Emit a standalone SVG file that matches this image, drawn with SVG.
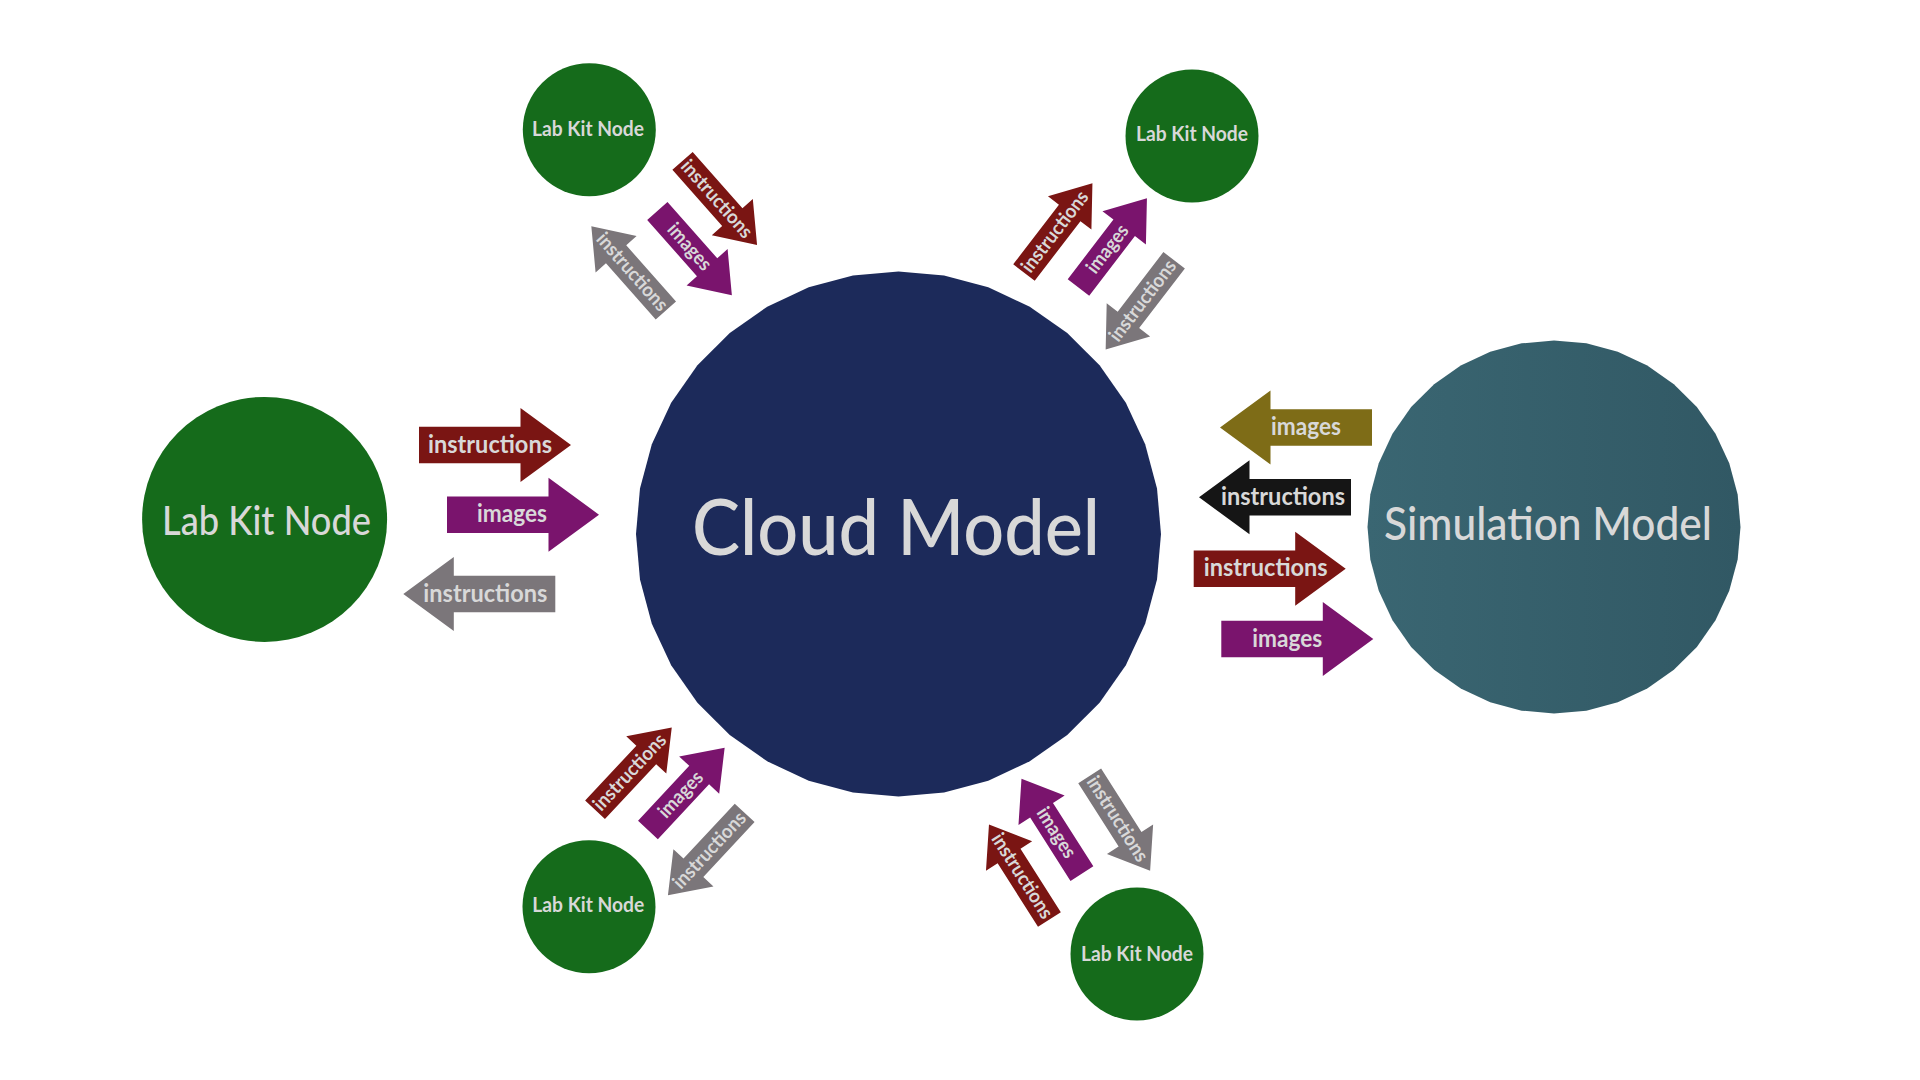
<svg xmlns="http://www.w3.org/2000/svg" xmlns:xlink="http://www.w3.org/1999/xlink" width="1920" height="1080" viewBox="0 0 1920 1080">
<style>
.lbl{font-family:Lato,"Open Sans","DejaVu Sans",sans-serif;fill:#d8d8d8;text-anchor:middle}
.t-arrow{font-size:25px;font-weight:700}
.t-diag{font-size:19.5px;font-weight:700}
.t-small{font-size:21px;font-weight:700}
.t-big{font-weight:500}
.red{fill:#7a1513}.pur{fill:#7a146d}.gry{fill:#7b767a}.olv{fill:#7e6c17}.blk{fill:#151515}
.green{fill:#156b1b}
</style>
<defs>
<polygon id="p36" points="100,0 98.48,17.36 93.97,34.2 86.6,50 76.6,64.28 64.28,76.6 50,86.6 34.2,93.97 17.36,98.48 0,100 -17.36,98.48 -34.2,93.97 -50,86.6 -64.28,76.6 -76.6,64.28 -86.6,50 -93.97,34.2 -98.48,17.36 -100,0 -98.48,-17.36 -93.97,-34.2 -86.6,-50 -76.6,-64.28 -64.28,-76.6 -50,-86.6 -34.2,-93.97 -17.36,-98.48 0,-100 17.36,-98.48 34.2,-93.97 50,-86.6 64.28,-76.6 76.6,-64.28 86.6,-50 93.97,-34.2 98.48,-17.36"/>
<path id="aR" d="M-76,-18.3H25.5V-37L76,0L25.5,37V18.3H-76Z"/>
<path id="aL" d="M76,-18.3H-25.5V-37L-76,0L-25.5,37V18.3H76Z"/>
<linearGradient id="simG" x1="0" y1="0" x2="1" y2="0">
<stop offset="0" stop-color="#3a6672"/><stop offset="1" stop-color="#315864"/>
</linearGradient>
</defs>
<rect width="1920" height="1080" fill="#ffffff"/>

<g id="cloud-model">
<use xlink:href="#p36" href="#p36" transform="translate(898.5 534) scale(2.625)" fill="#1c2a5a"/>
<text class="lbl t-big" x="896" y="555" font-size="78" textLength="408" lengthAdjust="spacingAndGlyphs">Cloud Model</text>
</g>
<g id="simulation-model">
<use xlink:href="#p36" href="#p36" transform="translate(1554 527) scale(1.865)" fill="url(#simG)"/>
<text class="lbl t-big" x="1548" y="540" font-size="46" textLength="328" lengthAdjust="spacingAndGlyphs">Simulation Model</text>
</g>
<g id="lab-kit-left">
<circle cx="264.6" cy="519.4" r="122.5" class="green"/>
<text class="lbl t-big" x="266.5" y="535.3" font-size="40" textLength="209" lengthAdjust="spacingAndGlyphs">Lab Kit Node</text>
</g>
<g id="lab-kit-top-left">
<circle cx="589.3" cy="129.7" r="66.5" class="green"/>
<text class="lbl t-small" x="588" y="135.5" textLength="112" lengthAdjust="spacingAndGlyphs">Lab Kit Node</text>
</g>
<g id="lab-kit-top-right">
<circle cx="1192" cy="136" r="66.5" class="green"/>
<text class="lbl t-small" x="1192" y="141" textLength="112" lengthAdjust="spacingAndGlyphs">Lab Kit Node</text>
</g>
<g id="lab-kit-bottom-left">
<circle cx="589" cy="906.7" r="66.5" class="green"/>
<text class="lbl t-small" x="588.3" y="912" textLength="112" lengthAdjust="spacingAndGlyphs">Lab Kit Node</text>
</g>
<g id="lab-kit-bottom-right">
<circle cx="1137" cy="954" r="66.5" class="green"/>
<text class="lbl t-small" x="1137" y="961" textLength="112" lengthAdjust="spacingAndGlyphs">Lab Kit Node</text>
</g>

<g id="connectors">
<g transform="translate(495 445)"><use xlink:href="#aR" href="#aR" class="red"/><text class="lbl t-arrow" x="-5" y="7.5" textLength="124" lengthAdjust="spacingAndGlyphs">instructions</text></g>
<g transform="translate(523 514.7)"><use xlink:href="#aR" href="#aR" class="pur"/><text class="lbl t-arrow" x="-11" y="7.5" textLength="70" lengthAdjust="spacingAndGlyphs">images</text></g>
<g transform="translate(479.3 594)"><use xlink:href="#aL" href="#aL" class="gry"/><text class="lbl t-arrow" x="6" y="7.5" textLength="124" lengthAdjust="spacingAndGlyphs">instructions</text></g>
<g transform="translate(1296 427.5)"><use xlink:href="#aL" href="#aL" class="olv"/><text class="lbl t-arrow" x="10" y="7.5" textLength="70" lengthAdjust="spacingAndGlyphs">images</text></g>
<g transform="translate(1275 497.3)"><use xlink:href="#aL" href="#aL" class="blk"/><text class="lbl t-arrow" x="8" y="7.5" textLength="124" lengthAdjust="spacingAndGlyphs">instructions</text></g>
<g transform="translate(1269.7 568.7)"><use xlink:href="#aR" href="#aR" class="red"/><text class="lbl t-arrow" x="-4" y="7.5" textLength="124" lengthAdjust="spacingAndGlyphs">instructions</text></g>
<g transform="translate(1297.3 639)"><use xlink:href="#aR" href="#aR" class="pur"/><text class="lbl t-arrow" x="-10" y="7.5" textLength="70" lengthAdjust="spacingAndGlyphs">images</text></g>
<g transform="translate(719.8 203) rotate(48.5)"><use xlink:href="#aR" href="#aR" class="red" transform="scale(0.74)"/><text class="lbl t-diag" x="-5" y="6" textLength="97" lengthAdjust="spacingAndGlyphs">instructions</text></g>
<g transform="translate(694.6 253.1) rotate(48.5)"><use xlink:href="#aR" href="#aR" class="pur" transform="scale(0.74)"/><text class="lbl t-diag" x="-8" y="6" textLength="56" lengthAdjust="spacingAndGlyphs">images</text></g>
<g transform="translate(628.6 268.4) rotate(48.5)"><use xlink:href="#aL" href="#aL" class="gry" transform="scale(0.74)"/><text class="lbl t-diag" x="5" y="6" textLength="97" lengthAdjust="spacingAndGlyphs">instructions</text></g>
<g transform="translate(1058.2 227.9) rotate(-52.5)"><use xlink:href="#aR" href="#aR" class="red" transform="scale(0.74)"/><text class="lbl t-diag" x="-5" y="6" textLength="97" lengthAdjust="spacingAndGlyphs">instructions</text></g>
<g transform="translate(1112.7 242.8) rotate(-52.5)"><use xlink:href="#aR" href="#aR" class="pur" transform="scale(0.74)"/><text class="lbl t-diag" x="-8" y="6" textLength="56" lengthAdjust="spacingAndGlyphs">images</text></g>
<g transform="translate(1139.9 304.9) rotate(-52.5)"><use xlink:href="#aL" href="#aL" class="gry" transform="scale(0.74)"/><text class="lbl t-diag" x="5" y="6" textLength="97" lengthAdjust="spacingAndGlyphs">instructions</text></g>
<g transform="translate(633.4 768.7) rotate(-47)"><use xlink:href="#aR" href="#aR" class="red" transform="scale(0.74)"/><text class="lbl t-diag" x="-5" y="6" textLength="97" lengthAdjust="spacingAndGlyphs">instructions</text></g>
<g transform="translate(686.3 788.9) rotate(-47)"><use xlink:href="#aR" href="#aR" class="pur" transform="scale(0.74)"/><text class="lbl t-diag" x="-8" y="6" textLength="56" lengthAdjust="spacingAndGlyphs">images</text></g>
<g transform="translate(706.3 854) rotate(-47)"><use xlink:href="#aL" href="#aL" class="gry" transform="scale(0.74)"/><text class="lbl t-diag" x="5" y="6" textLength="97" lengthAdjust="spacingAndGlyphs">instructions</text></g>
<g transform="translate(1119.9 823.3) rotate(57.5)"><use xlink:href="#aR" href="#aR" class="gry" transform="scale(0.74)"/><text class="lbl t-diag" x="-5" y="6" textLength="97" lengthAdjust="spacingAndGlyphs">instructions</text></g>
<g transform="translate(1051.7 826.2) rotate(57.5)"><use xlink:href="#aL" href="#aL" class="pur" transform="scale(0.74)"/><text class="lbl t-diag" x="8" y="6" textLength="56" lengthAdjust="spacingAndGlyphs">images</text></g>
<g transform="translate(1019.2 872) rotate(57.5)"><use xlink:href="#aL" href="#aL" class="red" transform="scale(0.74)"/><text class="lbl t-diag" x="5" y="6" textLength="97" lengthAdjust="spacingAndGlyphs">instructions</text></g>
</g>
</svg>
